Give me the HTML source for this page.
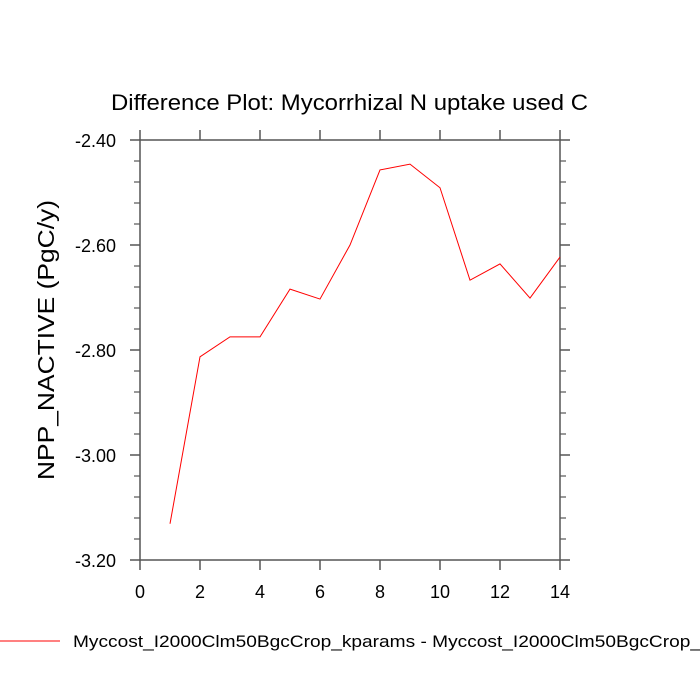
<!DOCTYPE html>
<html><head><meta charset="utf-8"><style>
body{margin:0;background:#fff;}
svg{display:block;font-family:"Liberation Sans",Helvetica,sans-serif;}
</style></head><body>
<svg id="c" width="700" height="700" viewBox="0 0 700 700">
<text x="111" y="110" font-size="22" textLength="477" lengthAdjust="spacingAndGlyphs">Difference Plot: Mycorrhizal N uptake used C</text>
<text transform="translate(54,340) rotate(-90)" font-size="23" text-anchor="middle" textLength="280" lengthAdjust="spacingAndGlyphs">NPP_NACTIVE  (PgC/y)</text>
<g id="axes"></g>
<g id="series"></g>
<line x1="0" y1="641" x2="60" y2="641" stroke="#ff0000" stroke-width="1"/>
<text x="73" y="647" font-size="17" textLength="628" lengthAdjust="spacingAndGlyphs">Myccost_I2000Clm50BgcCrop_kparams - Myccost_I2000Clm50BgcCrop_</text>
</svg>
<script>
const xVals=[1,2,3,4,5,6,7,8,9,10,11,12,13,14];
const yVals=[-3.131,-2.813,-2.775,-2.775,-2.684,-2.703,-2.600,-2.457,-2.446,-2.491,-2.667,-2.636,-2.701,-2.623];
const xTicks=[0,2,4,6,8,10,12,14];
const yTicks=[-2.40,-2.60,-2.80,-3.00,-3.20];
const yTickLabels=["-2.40","-2.60","-2.80","-3.00","-3.20"];
const L=140,R=560,T=140,B=560,xMin=0,xMax=14,yMin=-3.2,yMax=-2.4;
const sx=v=>L+(v-xMin)/(xMax-xMin)*(R-L);
const sy=v=>B-(v-yMin)/(yMax-yMin)*(B-T);
const NS="http://www.w3.org/2000/svg";
const ax=document.getElementById('axes');
const C='#555';
function ln(x1,y1,x2,y2,w,name){const e=document.createElementNS(NS,'line');
e.setAttribute('x1',x1);e.setAttribute('y1',y1);e.setAttribute('x2',x2);e.setAttribute('y2',y2);
e.setAttribute('stroke',C);e.setAttribute('stroke-width',w);


ax.appendChild(e);}
function tx(x,y,s,anchor,name){const e=document.createElementNS(NS,'text');
e.setAttribute('x',x);e.setAttribute('y',y);e.setAttribute('font-size','18');e.setAttribute('text-anchor',anchor);e.textContent=s;


ax.appendChild(e);}
const fr=document.createElementNS(NS,'rect');
fr.setAttribute('x',L);fr.setAttribute('y',T);fr.setAttribute('width',R-L);fr.setAttribute('height',B-T);
fr.setAttribute('fill','none');fr.setAttribute('stroke',C);fr.setAttribute('stroke-width','1.5');


ax.appendChild(fr);
xTicks.forEach(v=>{const x=sx(v);ln(x,B,x,B+10,1.5,'x-tick');ln(x,T,x,T-10,1.5,'x-tick-top');tx(x,B+38,String(v),'middle','x-tick-label');});
yTicks.forEach((v,i)=>{const y=sy(v);ln(L-10,y,L,y,1.5,'y-tick');ln(R,y,R+10,y,1.5,'y-tick-right');tx(L-24,y+7,yTickLabels[i],'end','y-tick-label');});
for(let k=1;k<20;k++){if(k%5===0)continue;const y=sy(yMin+k*0.04);ln(L-6,y,L,y,1.2,'y-minor-tick');ln(R,y,R+6,y,1.2,'y-minor-tick-right');}
const p=document.createElementNS(NS,'polyline');
p.setAttribute('points',xVals.map((x,i)=>sx(x)+','+sy(yVals[i])).join(' '));
p.setAttribute('fill','none');p.setAttribute('stroke','#ff0000');p.setAttribute('stroke-width','1');


document.getElementById('series').appendChild(p);
</script>
</body></html>
